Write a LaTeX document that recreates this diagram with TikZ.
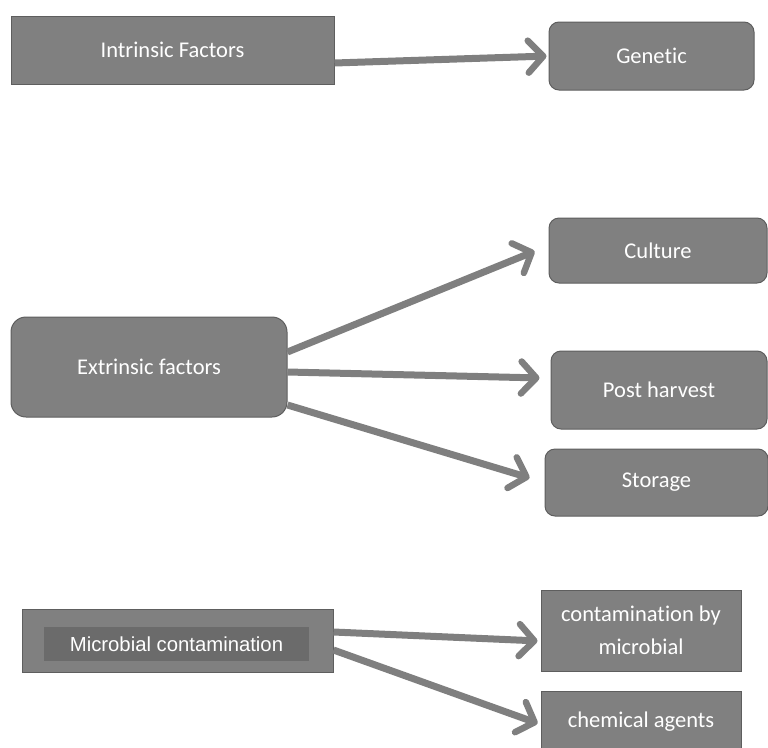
\documentclass[tikz,border=0pt]{standalone}
\usepackage{fontspec}
\setmainfont[Ligatures=NoCommon]{Carlito}
\newfontfamily\arialfont{Liberation Sans}
\usetikzlibrary{arrows.meta}
\definecolor{boxfill}{HTML}{808080}
\definecolor{boxline}{HTML}{5E5E5E}
\definecolor{innerfill}{HTML}{6B6B6B}
\definecolor{arrowcol}{HTML}{7F7F7F}
\tikzset{
  sqbox/.style={draw=boxline, line width=1pt, fill=boxfill, text=white, font=\fontsize{22.5}{27}\selectfont, inner sep=0pt, align=center},
  rdbox/.style={sqbox, rounded corners=10pt},
  conn/.style={draw=arrowcol, line width=7pt, -{Straight Barb[length=15pt, width=32pt, line width=6.5pt, round]}, shorten >=2pt}
}
\begin{document}
\begin{tikzpicture}[x=1pt,y=-1pt]
\useasboundingbox (0,0) rectangle (768,747);
\node[sqbox, minimum width=323pt, minimum height=68pt] (intr) at (172.5,50) {Intrinsic Factors};
\node[rdbox, minimum width=205pt, minimum height=68pt] (gen) at (651.5,56) {Genetic};
\node[rdbox, minimum width=218pt, minimum height=65pt] (cul) at (658,250.5) {Culture};
\node[rdbox, rounded corners=15pt, minimum width=276pt, minimum height=100pt] (ext) at (149,367) {Extrinsic factors};
\node[rdbox, minimum width=216pt, minimum height=78pt] (post) at (659,390) {Post harvest};
\node[rdbox, minimum width=223pt, minimum height=67pt] (stor) at (656.5,482.5) {Storage};
\node[sqbox, minimum width=311pt, minimum height=63pt] (mic) at (177.5,640.5) {};
\node[fill=innerfill, inner sep=0pt, minimum width=265pt, minimum height=34pt, text=white, font=\arialfont\fontsize{20.3}{24}\selectfont] (micin) at (176.5,644) {Microbial contamination};
\node[sqbox, minimum width=200pt, minimum height=81pt, font=\fontsize{22.5}{33}\selectfont] (con) at (641,630.5) {contamination by\\microbial};
\node[sqbox, minimum width=200pt, minimum height=62pt] (chem) at (641,722) {chemical agents};
\draw[conn] ([yshift=-13pt]intr.east) -- (gen.west);
\draw[conn] ([yshift=15pt]ext.east) -- ([xshift=-12pt]cul.west);
\draw[conn] ([yshift=-5pt]ext.east) -- ([xshift=-9pt,yshift=12pt]post.west);
\draw[conn] ([yshift=-38pt]ext.east) -- ([xshift=-13pt,yshift=4pt]stor.west);
\draw[conn] ([yshift=8.5pt]mic.east) -- ([xshift=-1pt,yshift=-10.5pt]con.west);
\draw[conn] ([yshift=-9.5pt]mic.east) -- ([xshift=-1pt,yshift=-2pt]chem.west);
\end{tikzpicture}
\end{document}
